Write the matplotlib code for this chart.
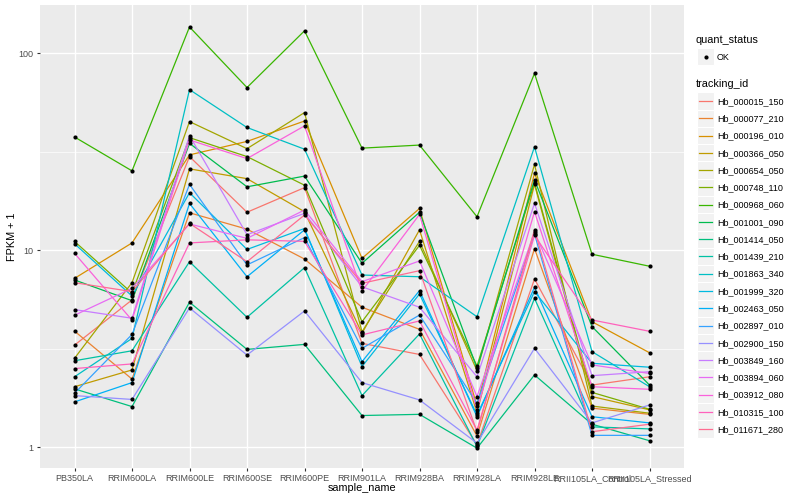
import numpy as np
import matplotlib
matplotlib.use("Agg")
import matplotlib.pyplot as plt
from matplotlib.patches import Rectangle

plt.rcParams['font.family'] = ['Liberation Sans', 'DejaVu Sans']

# samples on the x axis
samples = ['PB350LA', 'RRIM600LA', 'RRIM600LE', 'RRIM600SE', 'RRIM600PE', 'RRIM901LA',
           'RRIM928BA', 'RRIM928LA', 'RRIM928LE', 'RRII105LA_Control', 'RRII105LA_Stressed']

tracking_ids = ['Hb_000015_150', 'Hb_000077_210', 'Hb_000196_010', 'Hb_000366_050',
                'Hb_000654_050', 'Hb_000748_110', 'Hb_000968_060', 'Hb_001001_090',
                'Hb_001414_050', 'Hb_001439_210', 'Hb_001863_340', 'Hb_001999_320',
                'Hb_002463_050', 'Hb_002897_010', 'Hb_002900_150', 'Hb_003849_160',
                'Hb_003894_060', 'Hb_003912_080', 'Hb_010315_100', 'Hb_011671_280']

# FPKM + 1 per gene, one value per sample
Hb_000015_150 = [3.30, 5.6, 29.9, 15.6, 20.8, 3.37, 2.96, 1.03, 7.15, 2.07, 2.28]
Hb_000077_210 = [3.89, 2.22, 15.5, 12.8, 9.03, 5.14, 3.97, 1.14, 10.2, 1.58, 1.47]
Hb_000196_010 = [7.2, 10.9, 30.5, 35.7, 45.3, 9.1, 16.3, 1.62, 24.6, 4.34, 3.02]
Hb_000366_050 = [2.03, 2.47, 25.9, 23.1, 15.7, 3.79, 12.7, 1.50, 21.6, 1.81, 1.55]
Hb_000654_050 = [2.83, 6.85, 45.0, 32.8, 50.0, 3.86, 11.1, 2.45, 27.3, 1.62, 1.49]
Hb_000748_110 = [11.1, 6.06, 37.3, 29.9, 21.4, 4.34, 10.6, 2.59, 22.0, 1.90, 1.56]
Hb_000968_060 = [37.6, 25.3, 136, 67, 130, 33, 34.2, 14.8, 79, 9.55, 8.3]
Hb_001001_090 = [7.07, 5.55, 34.9, 21.0, 23.8, 8.59, 15.6, 2.52, 22.8, 4.10, 2.07]
Hb_001414_050 = [1.98, 1.61, 5.45, 3.14, 3.33, 1.45, 1.47, 0.99, 2.33, 1.31, 1.08]
Hb_001439_210 = [2.75, 3.09, 8.75, 4.57, 8.16, 1.83, 3.76, 1.01, 5.70, 1.27, 1.24]
Hb_001863_340 = [2.28, 3.57, 65.4, 42.0, 32.6, 7.49, 7.34, 4.6, 33.5, 3.06, 2.03]
Hb_001999_320 = [10.8, 5.86, 19.6, 10.1, 12.9, 2.57, 6.0, 1.46, 6.17, 2.67, 2.55]
Hb_002463_050 = [1.70, 2.13, 17.3, 7.34, 12.7, 2.72, 6.24, 1.43, 6.49, 1.43, 1.33]
Hb_002897_010 = [1.88, 3.74, 21.6, 8.43, 11.6, 3.18, 4.69, 1.67, 12.1, 1.15, 1.15]
Hb_002900_150 = [1.83, 1.75, 5.1, 2.94, 4.92, 2.13, 1.74, 1.05, 3.18, 1.33, 1.64]
Hb_003849_160 = [5.0, 4.52, 38.2, 12.0, 15.4, 6.53, 5.14, 2.28, 17.3, 2.31, 2.42]
Hb_003894_060 = [4.68, 6.41, 13.6, 11.5, 16.0, 6.93, 8.83, 1.81, 12.4, 2.62, 2.37]
Hb_003912_080 = [9.66, 4.42, 36.3, 29.2, 42.8, 6.21, 15.2, 1.55, 15.7, 2.03, 1.97]
Hb_010315_100 = [2.51, 2.65, 10.9, 11.3, 11.1, 3.72, 4.38, 1.22, 11.9, 4.43, 3.88]
Hb_011671_280 = [6.85, 6.17, 13.7, 8.75, 15.1, 6.80, 7.88, 1.20, 12.7, 1.20, 1.31]

series = [Hb_000015_150, Hb_000077_210, Hb_000196_010, Hb_000366_050, Hb_000654_050,
          Hb_000748_110, Hb_000968_060, Hb_001001_090, Hb_001414_050, Hb_001439_210,
          Hb_001863_340, Hb_001999_320, Hb_002463_050, Hb_002897_010, Hb_002900_150,
          Hb_003849_160, Hb_003894_060, Hb_003912_080, Hb_010315_100, Hb_011671_280]

# ggplot default hue palette for 20 levels
colors = ['#F8766D', '#EA8331', '#D89000', '#C09B00', '#A3A500', '#7CAE00', '#39B600',
          '#00BB4E', '#00BF7D', '#00C1A3', '#00BFC4', '#00BAE0', '#00B0F6', '#35A2FF',
          '#9590FF', '#C77CFF', '#E76BF3', '#FA62DB', '#FF62BC', '#FF6C91']

fig = plt.figure(figsize=(8, 5), dpi=100)
ax = fig.add_axes([40 / 800, 32 / 500, 644 / 800, 463 / 500])
ax.set_facecolor('#EBEBEB')

x = np.arange(len(samples))
for vals, col in zip(series, colors):
    ax.plot(x, vals, color=col, lw=0.9, zorder=3)
for vals in series:
    ax.scatter(x, vals, s=9, color='black', zorder=4, linewidths=0)

ax.set_yscale('log')
ax.set_ylim(10 ** -0.105, 10 ** 2.245)
ax.set_xlim(-0.6, len(samples) - 0.4)
ax.set_xticks(x)
ax.set_xticklabels(samples)
ax.set_yticks([1, 10, 100])
ax.set_yticklabels(['1', '10', '100'])
ax.yaxis.set_minor_locator(matplotlib.ticker.FixedLocator([10 ** 0.5, 10 ** 1.5]))
ax.yaxis.set_minor_formatter(matplotlib.ticker.NullFormatter())

ax.grid(True, which='major', color='white', lw=1.0, zorder=0)
ax.grid(True, which='minor', axis='y', color='white', lw=0.5, zorder=0)
ax.set_axisbelow(True)
for s in ax.spines.values():
    s.set_visible(False)
ax.tick_params(axis='both', which='major', length=2.5, width=0.8, color='#333333',
               labelsize=6.5, labelcolor='#4D4D4D', pad=2)
ax.tick_params(axis='y', which='minor', length=0)

ax.set_xlabel('sample_name', fontsize=7.8)
ax.set_ylabel('FPKM + 1', fontsize=7.8)
ax.xaxis.set_label_coords(0.5, -0.043)
ax.xaxis.label.set_va('center')
ax.yaxis.set_label_coords(-0.044, 0.5)
ax.yaxis.label.set_va('center')

# legend area, drawn in pixel-like units
lg = fig.add_axes([688 / 800, 0, 112 / 800, 1])
lg.set_xlim(688, 800)
lg.set_ylim(500, 0)
lg.axis('off')

lg.text(696, 40, 'quant_status', fontsize=7.8, va='center', ha='left')
lg.add_patch(Rectangle((697, 48), 17, 17, facecolor='#F2F2F2', edgecolor='white', lw=0.8))
lg.scatter([705.5], [56.5], s=9, color='black', linewidths=0)
lg.text(717, 57, 'OK', fontsize=6.5, va='center', ha='left')

lg.text(696, 84, 'tracking_id', fontsize=7.8, va='center', ha='left')
step = 17.27
for i, (name, col) in enumerate(zip(tracking_ids, colors)):
    yc = 101 + i * step
    lg.add_patch(Rectangle((697, yc - step / 2), 17, step, facecolor='#F2F2F2',
                           edgecolor='white', lw=0.8))
    lg.plot([699, 712], [yc, yc], color=col, lw=0.9)
    lg.text(717, yc + 0.5, name, fontsize=6.5, va='center', ha='left')

fig.savefig('out.png', dpi=100)
